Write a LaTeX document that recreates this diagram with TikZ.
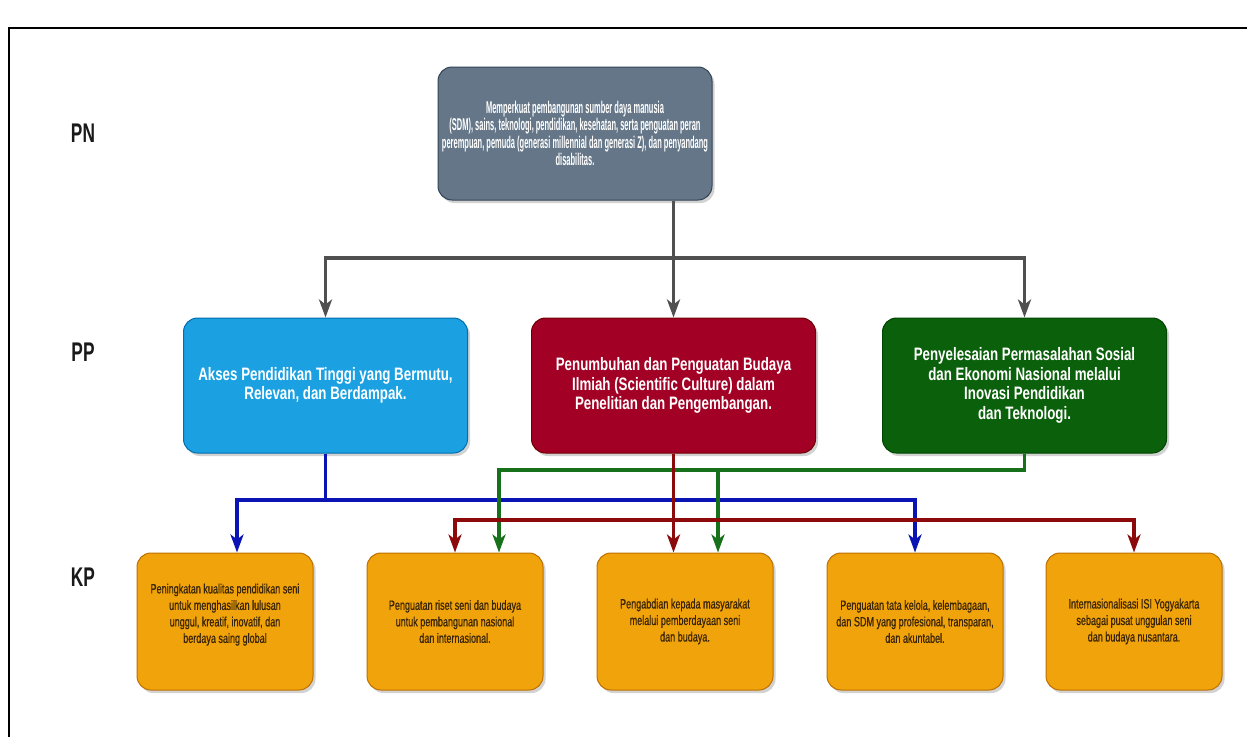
\documentclass[tikz,border=0pt]{standalone}
\usepackage{fontspec}
\setmainfont{Liberation Sans}
\newfontfamily\pnfont[FakeStretch=0.44]{Liberation Sans}
\newfontfamily\ppfont[FakeStretch=0.74]{Liberation Sans}
\newfontfamily\kpfont[FakeStretch=0.67,FakeBold=0.6]{Liberation Sans}
\newfontfamily\lvlfont[FakeStretch=0.64]{Liberation Sans}
\usepackage{tikz}
\usetikzlibrary{arrows.meta,shadows}

\definecolor{pngray}{HTML}{647687}
\definecolor{ppblue}{HTML}{1BA1E2}
\definecolor{ppred}{HTML}{A20025}
\definecolor{ppgreen}{HTML}{0B600B}
\definecolor{kporange}{HTML}{F0A30A}
\definecolor{lineblue}{HTML}{0A14B4}
\definecolor{linered}{HTML}{8C0A0A}
\definecolor{linegreen}{HTML}{17701A}
\definecolor{linegray}{HTML}{505050}
\definecolor{kptext}{HTML}{3A2508}

\tikzset{
  box/.style={rounded corners=14pt, inner sep=0pt, align=center, line width=1pt,
    drop shadow={shadow xshift=2.5pt, shadow yshift=-3pt, opacity=0.35}},
  pnbox/.style={box, fill=pngray, draw={rgb,255:red,49;green,67;blue,84},
    minimum width=274pt, minimum height=133pt, text=white,
    font=\pnfont\bfseries\fontsize{17}{17.5}\selectfont},
  ppbox/.style={box, minimum width=284pt, minimum height=135pt, text=white,
    font=\ppfont\bfseries\fontsize{18}{19.5}\selectfont},
  kpbox/.style={box, fill=kporange, draw={rgb,255:red,189;green,112;blue,0},
    minimum width=176pt, minimum height=137pt, text=kptext,
    font=\kpfont\fontsize{13.5}{16.5}\selectfont},
  lvl/.style={font=\lvlfont\bfseries\fontsize{27}{29}\selectfont, text=black!90},
  link/.style={line width=3.5pt, draw=#1,
    -{Stealth[length=18pt,width=13pt,inset=5pt]}}
}

\begin{document}
\begin{tikzpicture}[x=1pt,y=-1pt]
\useasboundingbox (0,0) rectangle (1247,736);
\clip (0,0) rectangle (1247,736);
\fill[white] (0,0) rectangle (1247,736);
\draw[line width=2.5pt] (1260,28) -- (9,28) -- (9,750);

% levels
\node[lvl] (lpn) at (83,133) {PN};
\node[lvl] (lpp) at (83,352) {PP};
\node[lvl] (lkp) at (83,577) {KP};

% boxes
\node[pnbox] (pn) at (575,133.5) {Memperkuat pembangunan sumber daya manusia\\
  (SDM), sains, teknologi, pendidikan, kesehatan, serta penguatan peran\\
  perempuan, pemuda (generasi millennial dan generasi Z), dan penyandang\\
  disabilitas.};

\node[ppbox, fill=ppblue, draw={rgb,255:red,0;green,110;blue,175}] (ppb) at (325.5,385.5)
  {Akses Pendidikan Tinggi yang Bermutu,\\ Relevan, dan Berdampak.};
\node[ppbox, fill=ppred, draw={rgb,255:red,111;green,0;blue,0}] (ppr) at (673.5,385.5)
  {Penumbuhan dan Penguatan Budaya\\ Ilmiah (Scientific Culture) dalam\\ Penelitian dan Pengembangan.};
\node[ppbox, fill=ppgreen, draw={rgb,255:red,0;green,70;blue,0}] (ppg) at (1024.5,385.5)
  {Penyelesaian Permasalahan Sosial\\ dan Ekonomi Nasional melalui\\ Inovasi Pendidikan\\ dan Teknologi.};

\node[kpbox] (kp1) at (225,621.5) {Peningkatan kualitas pendidikan seni\\ untuk menghasilkan lulusan\\ unggul, kreatif, inovatif, dan\\ berdaya saing global\\ \mbox{}};
\node[kpbox] (kp2) at (455,621.5) {Penguatan riset seni dan budaya\\ untuk pembangunan nasional\\ dan internasional.};
\node[kpbox] (kp3) at (685,621.5) {Pengabdian kepada masyarakat\\ melalui pemberdayaan seni\\ dan budaya.};
\node[kpbox] (kp4) at (915,621.5) {Penguatan tata kelola, kelembagaan,\\ dan SDM yang profesional, transparan,\\ dan akuntabel.};
\node[kpbox] (kp5) at (1134,621.5) {Internasionalisasi ISI Yogyakarta\\ sebagai pusat unggulan seni\\ dan budaya nusantara.};

% bars
\coordinate (pnbar) at (0,258);
\coordinate (gbar) at (0,470);
\coordinate (bbar) at (0,500);
\coordinate (rbar) at (0,520);

% PN -> PP
\draw[link=linegray] (pn.south -| ppr.north) -- (ppr.north);
\draw[link=linegray] (pn.south -| ppr.north) -- (ppr.north |- pnbar) -| (ppb.north);
\draw[link=linegray] (pn.south -| ppr.north) -- (ppr.north |- pnbar) -| (ppg.north);

% PP -> KP
\draw[link=lineblue] (ppb.south) -- (ppb.south |- bbar) -| ([xshift=12pt]kp1.north);
\draw[link=lineblue] (ppb.south) -- (ppb.south |- bbar) -| (kp4.north);
\draw[link=linegreen] (ppg.south) -- (ppg.south |- gbar) -| ([xshift=44pt]kp2.north);
\draw[link=linegreen] (ppg.south) -- (ppg.south |- gbar) -| ([xshift=33pt]kp3.north);
\draw[link=linered] (ppr.south) -- (ppr.south |- kp3.north);
\draw[link=linered] (ppr.south) -- (ppr.south |- rbar) -| (kp2.north);
\draw[link=linered] (ppr.south) -- (ppr.south |- rbar) -| (kp5.north);
\end{tikzpicture}
\end{document}
